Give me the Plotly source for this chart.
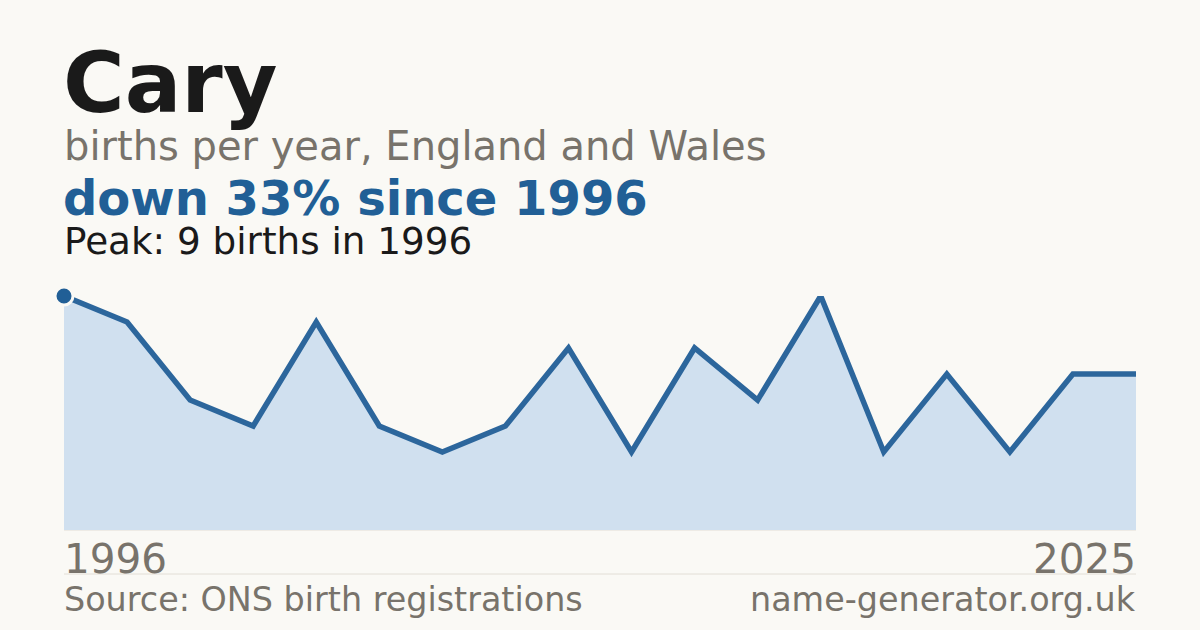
import plotly.graph_objects as go

# ---- data ----
name = "Cary"
subtitle = "births per year, England and Wales"
headline = "down 33% since 1996"
peak_text = "Peak: 9 births in 1996"
start_label = "1996"
end_label = "2025"
source_text = "Source: ONS birth registrations"
site_text = "name-generator.org.uk"
births = [9, 8, 5, 4, 8, 4, 3, 4, 7, 3, 7, 5, 9, 3, 6, 3, 6, 6]

W, H = 1200, 630
BG = "#faf9f5"
BLUE = "#215f96"
GRAY = "#78736b"
FONT = "DejaVu Sans"

xs = list(range(len(births)))

def py(pix):
    return 1 - pix / H

def px(pix):
    return pix / W

fig = go.Figure()
fig.add_trace(go.Scatter(
    x=xs, y=births, mode="lines", fill="tozeroy",
    fillcolor="#d0e0ef", line=dict(color="#2c669c", width=5.5),
    hoverinfo="skip", cliponaxis=False,
))
fig.add_trace(go.Scatter(
    x=[xs[0]], y=[births[0]], mode="markers",
    marker=dict(size=18, color=BLUE, line=dict(color=BG, width=3)),
    hoverinfo="skip", cliponaxis=False,
))

fig.update_layout(
    width=W, height=H,
    margin=dict(l=0, r=0, t=0, b=0),
    paper_bgcolor=BG, plot_bgcolor=BG,
    showlegend=False,
    font=dict(family=FONT),
    xaxis=dict(domain=[px(64), px(1136)], range=[0, len(births) - 1],
               showgrid=False, zeroline=False, showticklabels=False, fixedrange=True),
    yaxis=dict(domain=[py(530), py(296)], range=[0, max(births)],
               showgrid=False, zeroline=False, showticklabels=False, fixedrange=True),
)

def ann(text, x, baseline, size, color, bold=False, align="left", trim_descent=False):
    t = f"<b>{text}</b>" if bold else text
    kw = {}
    if trim_descent:
        top = baseline - 0.928 * size
        kw = dict(height=round(0.96 * size), valign="top", yanchor="top",
                  y=py(top - 1), borderpad=0)
    else:
        center = baseline - 0.346 * size
        kw = dict(yanchor="middle", y=py(center))
    fig.add_annotation(
        text=t, xref="paper", yref="paper", x=px(x),
        xanchor=align, showarrow=False,
        font=dict(family=FONT, size=size, color=color), **kw,
    )

ann(name, 61, 112, 84, "#1a1a1a", bold=True)
ann(subtitle, 62, 160, 40, GRAY)
ann(headline, 62, 215, 48, BLUE, bold=True, trim_descent=True)
ann(peak_text, 62, 254, 37.3, "#1a1a1a")
ann(start_label, 62, 573, 40.5, GRAY)
ann(end_label, 1138, 573, 40.5, GRAY, align="right")
ann(source_text, 62, 611, 33.4, GRAY)
ann(site_text, 1138, 611, 33.4, GRAY, align="right")

for yy in (530, 574):
    fig.add_shape(type="line", xref="paper", yref="paper",
                  x0=px(64), x1=px(1136), y0=py(yy), y1=py(yy),
                  line=dict(color="#e2ded6", width=1), layer="below")

fig.write_html(
    "out.html",
    config={"displayModeBar": False, "staticPlot": True},
    post_script="document.body.style.margin='0';document.body.style.overflow='hidden';document.body.style.background='#faf9f5';",
)
